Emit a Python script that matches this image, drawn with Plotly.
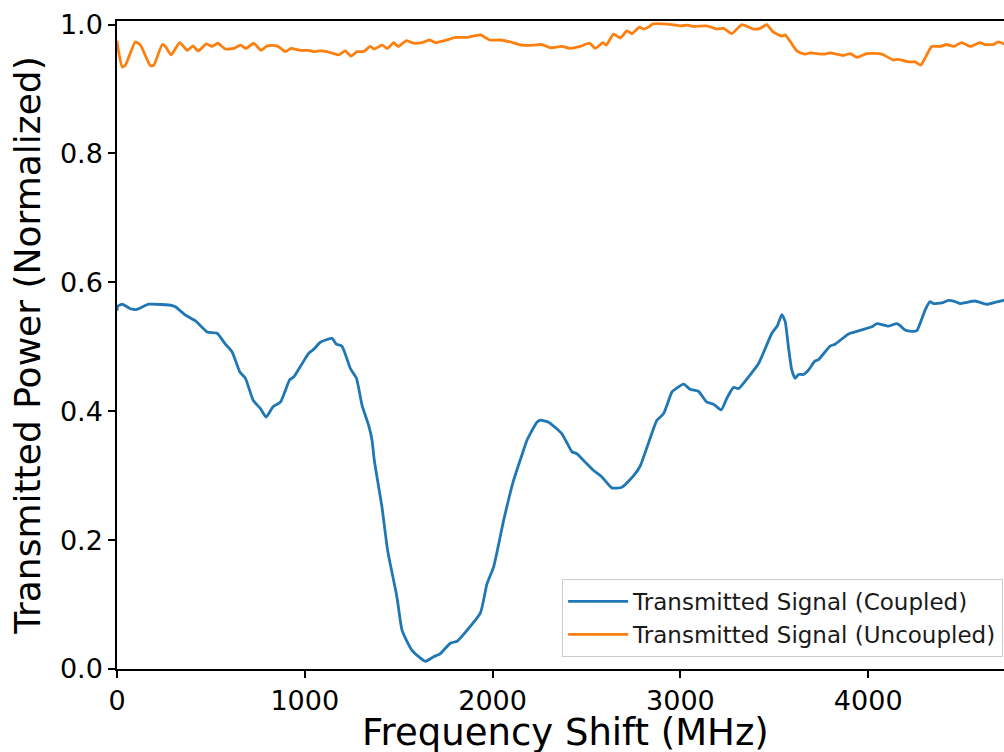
import plotly.graph_objects as go

# Coupled transmitted signal (blue)
coupled_x = [0, 4, 28, 72, 107, 169, 294, 311, 365, 418, 480, 533, 577, 613, 654, 684, 725, 764, 794,
             831, 870, 920, 941, 986, 1021, 1047, 1083, 1145, 1168, 1198, 1243, 1275, 1305, 1340, 1358,
             1370, 1411, 1441, 1491, 1518, 1571, 1642, 1686, 1722, 1775, 1811, 1855, 1935, 1970, 2005,
             2059, 2112, 2156, 2183, 2236, 2254, 2298, 2369, 2423, 2449, 2493, 2538, 2582, 2635, 2689,
             2751, 2786, 2822, 2875, 2910, 2955, 2972, 3017, 3052, 3096, 3141, 3176, 3217, 3247, 3283,
             3309, 3362, 3416, 3451, 3487, 3517, 3540, 3558, 3575, 3593, 3611, 3629, 3655, 3682, 3717,
             3735, 3797, 3824, 3895, 3930, 3975, 4019, 4046, 4108, 4152, 4170, 4196, 4232, 4259, 4276,
             4303, 4329, 4347, 4392, 4427, 4454, 4489, 4525, 4569, 4631, 4675, 4720, 4760]
coupled_y = [0.556, 0.563, 0.566, 0.559, 0.558, 0.566, 0.564, 0.562, 0.549, 0.540, 0.523, 0.521, 0.504,
             0.492, 0.461, 0.451, 0.417, 0.404, 0.391, 0.407, 0.414, 0.449, 0.453, 0.474, 0.490, 0.496,
             0.507, 0.513, 0.504, 0.501, 0.466, 0.451, 0.409, 0.378, 0.355, 0.324, 0.251, 0.184, 0.111,
             0.060, 0.029, 0.012, 0.019, 0.024, 0.040, 0.043, 0.057, 0.087, 0.132, 0.158, 0.231, 0.293,
             0.332, 0.355, 0.383, 0.386, 0.383, 0.365, 0.337, 0.334, 0.321, 0.308, 0.298, 0.281, 0.282,
             0.300, 0.315, 0.344, 0.386, 0.396, 0.430, 0.434, 0.442, 0.434, 0.431, 0.414, 0.411, 0.402,
             0.420, 0.437, 0.435, 0.453, 0.474, 0.497, 0.521, 0.533, 0.550, 0.539, 0.500, 0.464, 0.451,
             0.457, 0.457, 0.464, 0.478, 0.480, 0.501, 0.504, 0.520, 0.523, 0.527, 0.531, 0.536, 0.532,
             0.536, 0.533, 0.526, 0.524, 0.525, 0.536, 0.557, 0.570, 0.567, 0.568, 0.572, 0.571, 0.567,
             0.569, 0.571, 0.566, 0.569, 0.572, 0.573]

# Uncoupled transmitted signal (orange)
uncoupled_x = [0, 4, 28, 45, 98, 125, 178, 196, 241, 258, 288, 334, 374, 405, 432, 476, 507, 537, 577,
               622, 657, 688, 728, 767, 799, 853, 897, 927, 977, 1021, 1047, 1074, 1119, 1154, 1180, 1216,
               1246, 1278, 1313, 1349, 1370, 1411, 1441, 1473, 1497, 1541, 1580, 1624, 1665, 1695, 1766,
               1802, 1864, 1935, 1984, 2041, 2094, 2156, 2218, 2263, 2307, 2369, 2413, 2467, 2516, 2547,
               2588, 2605, 2644, 2680, 2715, 2742, 2782, 2803, 2830, 2854, 2955, 2999, 3040, 3070, 3141,
               3194, 3229, 3274, 3327, 3389, 3425, 3460, 3492, 3540, 3558, 3620, 3664, 3691, 3762, 3797,
               3868, 3904, 3940, 3993, 4063, 4081, 4134, 4161, 4214, 4250, 4280, 4303, 4338, 4383, 4418,
               4454, 4498, 4542, 4595, 4622, 4666, 4693, 4723, 4760]
uncoupled_y = [0.975, 0.966, 0.934, 0.937, 0.973, 0.968, 0.936, 0.937, 0.969, 0.966, 0.953, 0.972,
               0.960, 0.967, 0.959, 0.970, 0.966, 0.971, 0.962, 0.963, 0.968, 0.963, 0.971, 0.960, 0.967,
               0.967, 0.958, 0.963, 0.960, 0.960, 0.958, 0.959, 0.958, 0.955, 0.953, 0.959, 0.951, 0.958,
               0.958, 0.966, 0.962, 0.968, 0.963, 0.972, 0.966, 0.975, 0.971, 0.972, 0.976, 0.972, 0.977,
               0.980, 0.980, 0.984, 0.976, 0.976, 0.973, 0.968, 0.968, 0.969, 0.964, 0.966, 0.963, 0.966,
               0.971, 0.963, 0.972, 0.968, 0.985, 0.979, 0.990, 0.986, 0.996, 0.993, 0.996, 1.001, 1.000,
               0.998, 0.999, 0.997, 0.998, 0.993, 0.994, 0.986, 1.000, 0.993, 0.994, 1.000, 0.989, 0.982,
               0.984, 0.959, 0.954, 0.956, 0.954, 0.956, 0.952, 0.955, 0.949, 0.955, 0.955, 0.953, 0.945,
               0.946, 0.942, 0.942, 0.937, 0.948, 0.966, 0.966, 0.969, 0.966, 0.972, 0.966, 0.972, 0.969,
               0.969, 0.973, 0.970, 0.970]

x_ticks = [0, 1000, 2000, 3000, 4000]
y_ticks = [0.0, 0.2, 0.4, 0.6, 0.8, 1.0]

FONT = "DejaVu Sans"

fig = go.Figure()
fig.add_trace(go.Scatter(x=coupled_x, y=coupled_y, mode="lines",
                         name="Transmitted Signal (Coupled)",
                         line=dict(color="#1f77b4", width=2.8, shape="spline", smoothing=0.5)))
fig.add_trace(go.Scatter(x=uncoupled_x, y=uncoupled_y, mode="lines",
                         name="Transmitted Signal (Uncoupled)",
                         line=dict(color="#ff7f0e", width=2.8, shape="spline", smoothing=0.5)))

fig.update_layout(
    width=1004, height=752,
    margin=dict(l=117, r=0, t=21, b=83, autoexpand=False),
    paper_bgcolor="white", plot_bgcolor="white",
    font=dict(family=FONT, color="black"),
    showlegend=True,
    legend=dict(x=0.999, y=0.0185, xanchor="right", yanchor="bottom",
                bgcolor="rgba(255,255,255,0.8)", bordercolor="#cccccc", borderwidth=1,
                font=dict(family=FONT, size=23, color="#1a1a1a"),
                tracegroupgap=0, itemwidth=60),
    annotations=[dict(text="Frequency Shift (MHz)", xref="paper", yref="paper",
                      x=0.506, y=0, xanchor="center", yanchor="top", yshift=-40,
                      showarrow=False, font=dict(family=FONT, size=37, color="black"))],
)
fig.update_xaxes(
    range=[0, 4723], tickvals=x_ticks, ticktext=[str(v) for v in x_ticks],
    showgrid=False, zeroline=False, showline=True, linecolor="black", linewidth=1.5,
    mirror=True, ticks="outside", ticklen=7, tickwidth=1.5, tickcolor="black",
    tickfont=dict(family=FONT, size=27, color="black"), automargin=False,
)
fig.update_yaxes(
    range=[0, 1.0055], tickvals=y_ticks, ticktext=[f"{v:.1f}" for v in y_ticks],
    showgrid=False, zeroline=False, showline=True, linecolor="black", linewidth=1.5,
    ticks="outside", ticklen=7, tickwidth=1.5, tickcolor="black",
    tickfont=dict(family=FONT, size=27, color="black"), automargin=False,
    title=dict(text="Transmitted Power (Normalized)", font=dict(family=FONT, size=36, color="black"), standoff=8),
)

fig.write_html("out.html", config={"displayModeBar": False},
               post_script="document.body.style.margin='0';document.body.style.overflow='hidden';")
